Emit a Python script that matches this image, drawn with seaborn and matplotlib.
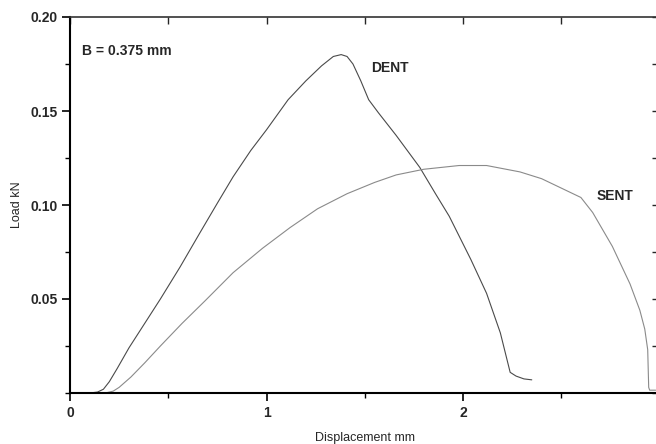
import matplotlib
matplotlib.use("Agg")
import matplotlib.pyplot as plt
import seaborn as sns
import pandas as pd
from matplotlib.ticker import MultipleLocator, FixedLocator

# Data
dent_x = [0.00, 0.10, 0.14, 0.17, 0.20, 0.24, 0.30, 0.38, 0.46, 0.56, 0.66, 0.75, 0.83, 0.92, 1.00,
          1.11, 1.20, 1.28, 1.34, 1.38, 1.41, 1.44, 1.48, 1.52, 1.57, 1.66, 1.78, 1.86, 1.93, 2.04,
          2.12, 2.19, 2.24, 2.27, 2.31, 2.35]
dent_y = [0.000, 0.000, 0.0005, 0.002, 0.006, 0.013, 0.024, 0.037, 0.050, 0.067, 0.085, 0.101, 0.115,
          0.129, 0.140, 0.156, 0.166, 0.174, 0.179, 0.180, 0.179, 0.175, 0.166, 0.156, 0.149, 0.137,
          0.120, 0.106, 0.094, 0.071, 0.053, 0.032, 0.011, 0.009, 0.0075, 0.007]
sent_x = [0.00, 0.18, 0.22, 0.25, 0.31, 0.38, 0.46, 0.57, 0.687, 0.83, 0.98, 1.12, 1.26, 1.41, 1.55,
          1.66, 1.80, 1.98, 2.12, 2.29, 2.40, 2.50, 2.60, 2.66, 2.71, 2.76, 2.85, 2.90, 2.925, 2.94,
          2.945, 2.95, 2.98]
sent_y = [0.000, 0.000, 0.001, 0.003, 0.0085, 0.016, 0.025, 0.037, 0.049, 0.064, 0.077, 0.088, 0.098,
          0.106, 0.112, 0.116, 0.119, 0.121, 0.121, 0.1176, 0.114, 0.109, 0.104, 0.096, 0.087, 0.078,
          0.058, 0.044, 0.034, 0.023, 0.003, 0.0015, 0.0015]

x_ticks = [0, 1, 2, 3]
y_ticks = [0.05, 0.10, 0.15, 0.20]

sns.set_style("white")
plt.rcParams['font.family'] = ['Liberation Sans', 'DejaVu Sans']

W, H = 656, 444
fig = plt.figure(figsize=(W / 100, H / 100), dpi=100)
ax = fig.add_axes([70 / W, (H - 393) / H, (659.5 - 70) / W, (393 - 17) / H])

dent = pd.DataFrame({"x": dent_x, "y": dent_y})
sent = pd.DataFrame({"x": sent_x, "y": sent_y})
sns.lineplot(data=dent, x="x", y="y", ax=ax, color="#4a4a4a", lw=0.8, sort=False)
sns.lineplot(data=sent, x="x", y="y", ax=ax, color="#8a8a8a", lw=0.8, sort=False)

ax.set_xlim(0, 3)
ax.set_ylim(0, 0.20)

ax.xaxis.set_major_locator(FixedLocator(x_ticks))
ax.xaxis.set_minor_locator(MultipleLocator(0.5))
ax.yaxis.set_major_locator(FixedLocator(y_ticks))
ax.yaxis.set_minor_locator(MultipleLocator(0.025))
ax.set_xticklabels([str(t) for t in x_ticks], fontweight='bold', fontsize=10)
ax.set_yticklabels([f"{t:.2f}" for t in y_ticks], fontweight='bold', fontsize=10)

ax.tick_params(axis='both', which='major', direction='out', length=6, width=1.2, color='black',
               bottom=True, left=True, top=False, right=False, pad=3)
ax.tick_params(axis='both', which='minor', direction='out', length=3.5, width=1.0, color='black',
               bottom=True, left=True, top=False, right=False)

for side in ['left', 'bottom']:
    ax.spines[side].set_color('black')
    ax.spines[side].set_linewidth(1.5)
ax.spines['top'].set_color('#333333')
ax.spines['top'].set_linewidth(1.2)
ax.spines['right'].set_color('#333333')
ax.spines['right'].set_linewidth(1.2)

# top and right inward ticks
secx = ax.secondary_xaxis('top')
secx.xaxis.set_major_locator(MultipleLocator(0.5))
secx.tick_params(direction='in', length=5, width=1.0, labeltop=False)
secx.spines['top'].set_visible(False)
secy = ax.secondary_yaxis('right')
secy.yaxis.set_major_locator(MultipleLocator(0.025))
secy.tick_params(direction='in', length=6, width=1.0, labelright=False)
secy.spines['right'].set_visible(False)

ax.set_xlabel("Displacement mm", fontsize=9, labelpad=9)
ax.set_ylabel("Load kN", fontsize=9, labelpad=5)

ax.text(0.06, 0.182, "B = 0.375 mm", fontsize=10, fontweight='bold', va='center', ha='left')
ax.text(1.53, 0.173, "DENT", fontsize=10, fontweight='bold', va='center', ha='left')
ax.text(2.68, 0.105, "SENT", fontsize=10, fontweight='bold', va='center', ha='left')

fig.savefig("out.png", dpi=100)
